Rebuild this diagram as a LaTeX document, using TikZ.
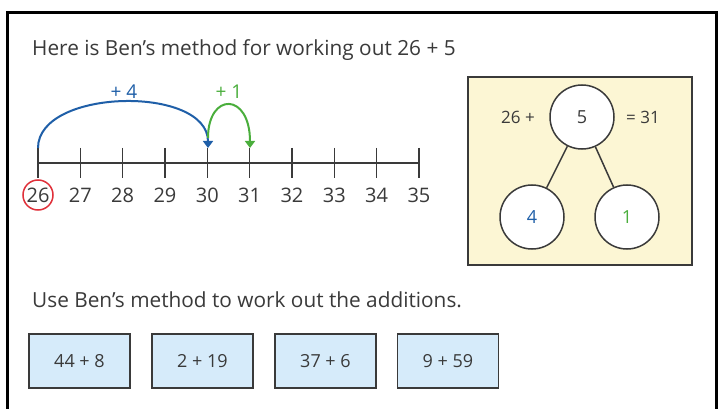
\documentclass[tikz,border=0pt]{standalone}
\usepackage{fontspec}
\setmainfont{Open Sans}
\usetikzlibrary{arrows.meta}
\definecolor{txt}{HTML}{3A3A3A}
\definecolor{bluearc}{HTML}{1F5FA8}
\definecolor{greenarc}{HTML}{4AAE3C}
\definecolor{yel}{HTML}{FCF6D4}
\definecolor{lblue}{HTML}{D6EBFA}
\definecolor{redc}{HTML}{E0303A}
\tikzset{
  lbl/.style={text=txt, font=\fontsize{20.8}{23}\selectfont, inner sep=0pt},
  numlbl/.style={text=txt, font=\fontsize{20}{22}\selectfont, inner sep=0pt},
  bubble/.style={circle, draw=txt, line width=1.5pt, fill=white, minimum size=64pt, inner sep=0pt, text=txt, font=\fontsize{18}{20}\selectfont},
  sumbox/.style={draw=txt, line width=1.5pt, fill=lblue, minimum width=101pt, minimum height=54pt, text=txt, font=\fontsize{18}{20}\selectfont, inner sep=0pt},
  tickmark/.style={draw=txt, line width=1.6pt},
}
\begin{document}
\begin{tikzpicture}[x=1pt,y=-1pt]
\useasboundingbox (0,0) rectangle (720,409);
\fill[white] (0,0) rectangle (720,409);
% frame
\draw[black, line width=3pt] (7,420) -- (7,13) -- (716,13) -- (716,420);
% title
\node[lbl, anchor=west] (title) at (32,50) {Here is Ben’s method for working out 26 + 5};
% number line
\foreach \i [count=\k from 0] in {26,...,35} {
  \coordinate (t\i) at ({38+\k*42.33},163);
  \draw[tickmark] ({38+\k*42.33},148) -- ({38+\k*42.33},178);
  \node[numlbl] (n\i) at ({38+\k*42.33},195) {\i};
}
\draw[tickmark] (t26) -- (t35);
\draw[redc, line width=1.5pt] (n26) circle (15pt);
% arcs
\coordinate (a0) at (38,148);
\coordinate (a1) at (208,148);
\coordinate (a2) at (250,148);
\draw[bluearc, line width=2pt, -{Triangle[width=10pt,length=7pt]}] (a0) .. controls (38,88) and (208,85) .. (a1);
\draw[greenarc, line width=2pt, -{Triangle[width=10pt,length=7pt]}] (208,138) .. controls (208,92) and (250,92) .. (a2);
\node[font=\fontsize{19}{21}\selectfont, text=bluearc] (p4) at (124,92) {+ 4};
\node[font=\fontsize{19}{21}\selectfont, text=greenarc] (p1) at (229,92) {+ 1};
% part-whole box
\draw[txt, line width=1.6pt, fill=yel] (468,77) rectangle (692,265);
\node[bubble] (c5) at (582,117) {5};
\node[bubble, text=bluearc] (c4) at (532,217) {4};
\node[bubble, text=greenarc] (c1) at (627,217) {1};
\draw[txt, line width=1.5pt] (c5) -- (c4);
\draw[txt, line width=1.5pt] (c5) -- (c1);
\node[text=txt, font=\fontsize{17}{19}\selectfont] (l26) at (518,117) {26 +};
\node[text=txt, font=\fontsize{17}{19}\selectfont] (l31) at (643,117) {= 31};
% second text
\node[lbl, anchor=west] (use) at (32,300) {Use Ben’s method to work out the additions.};
% boxes
\node[sumbox] (b1) at (79.5,361) {44 + 8};
\node[sumbox] (b2) at (202.5,361) {2 + 19};
\node[sumbox] (b3) at (325.5,361) {37 + 6};
\node[sumbox] (b4) at (448,361) {9 + 59};
\end{tikzpicture}
\end{document}
